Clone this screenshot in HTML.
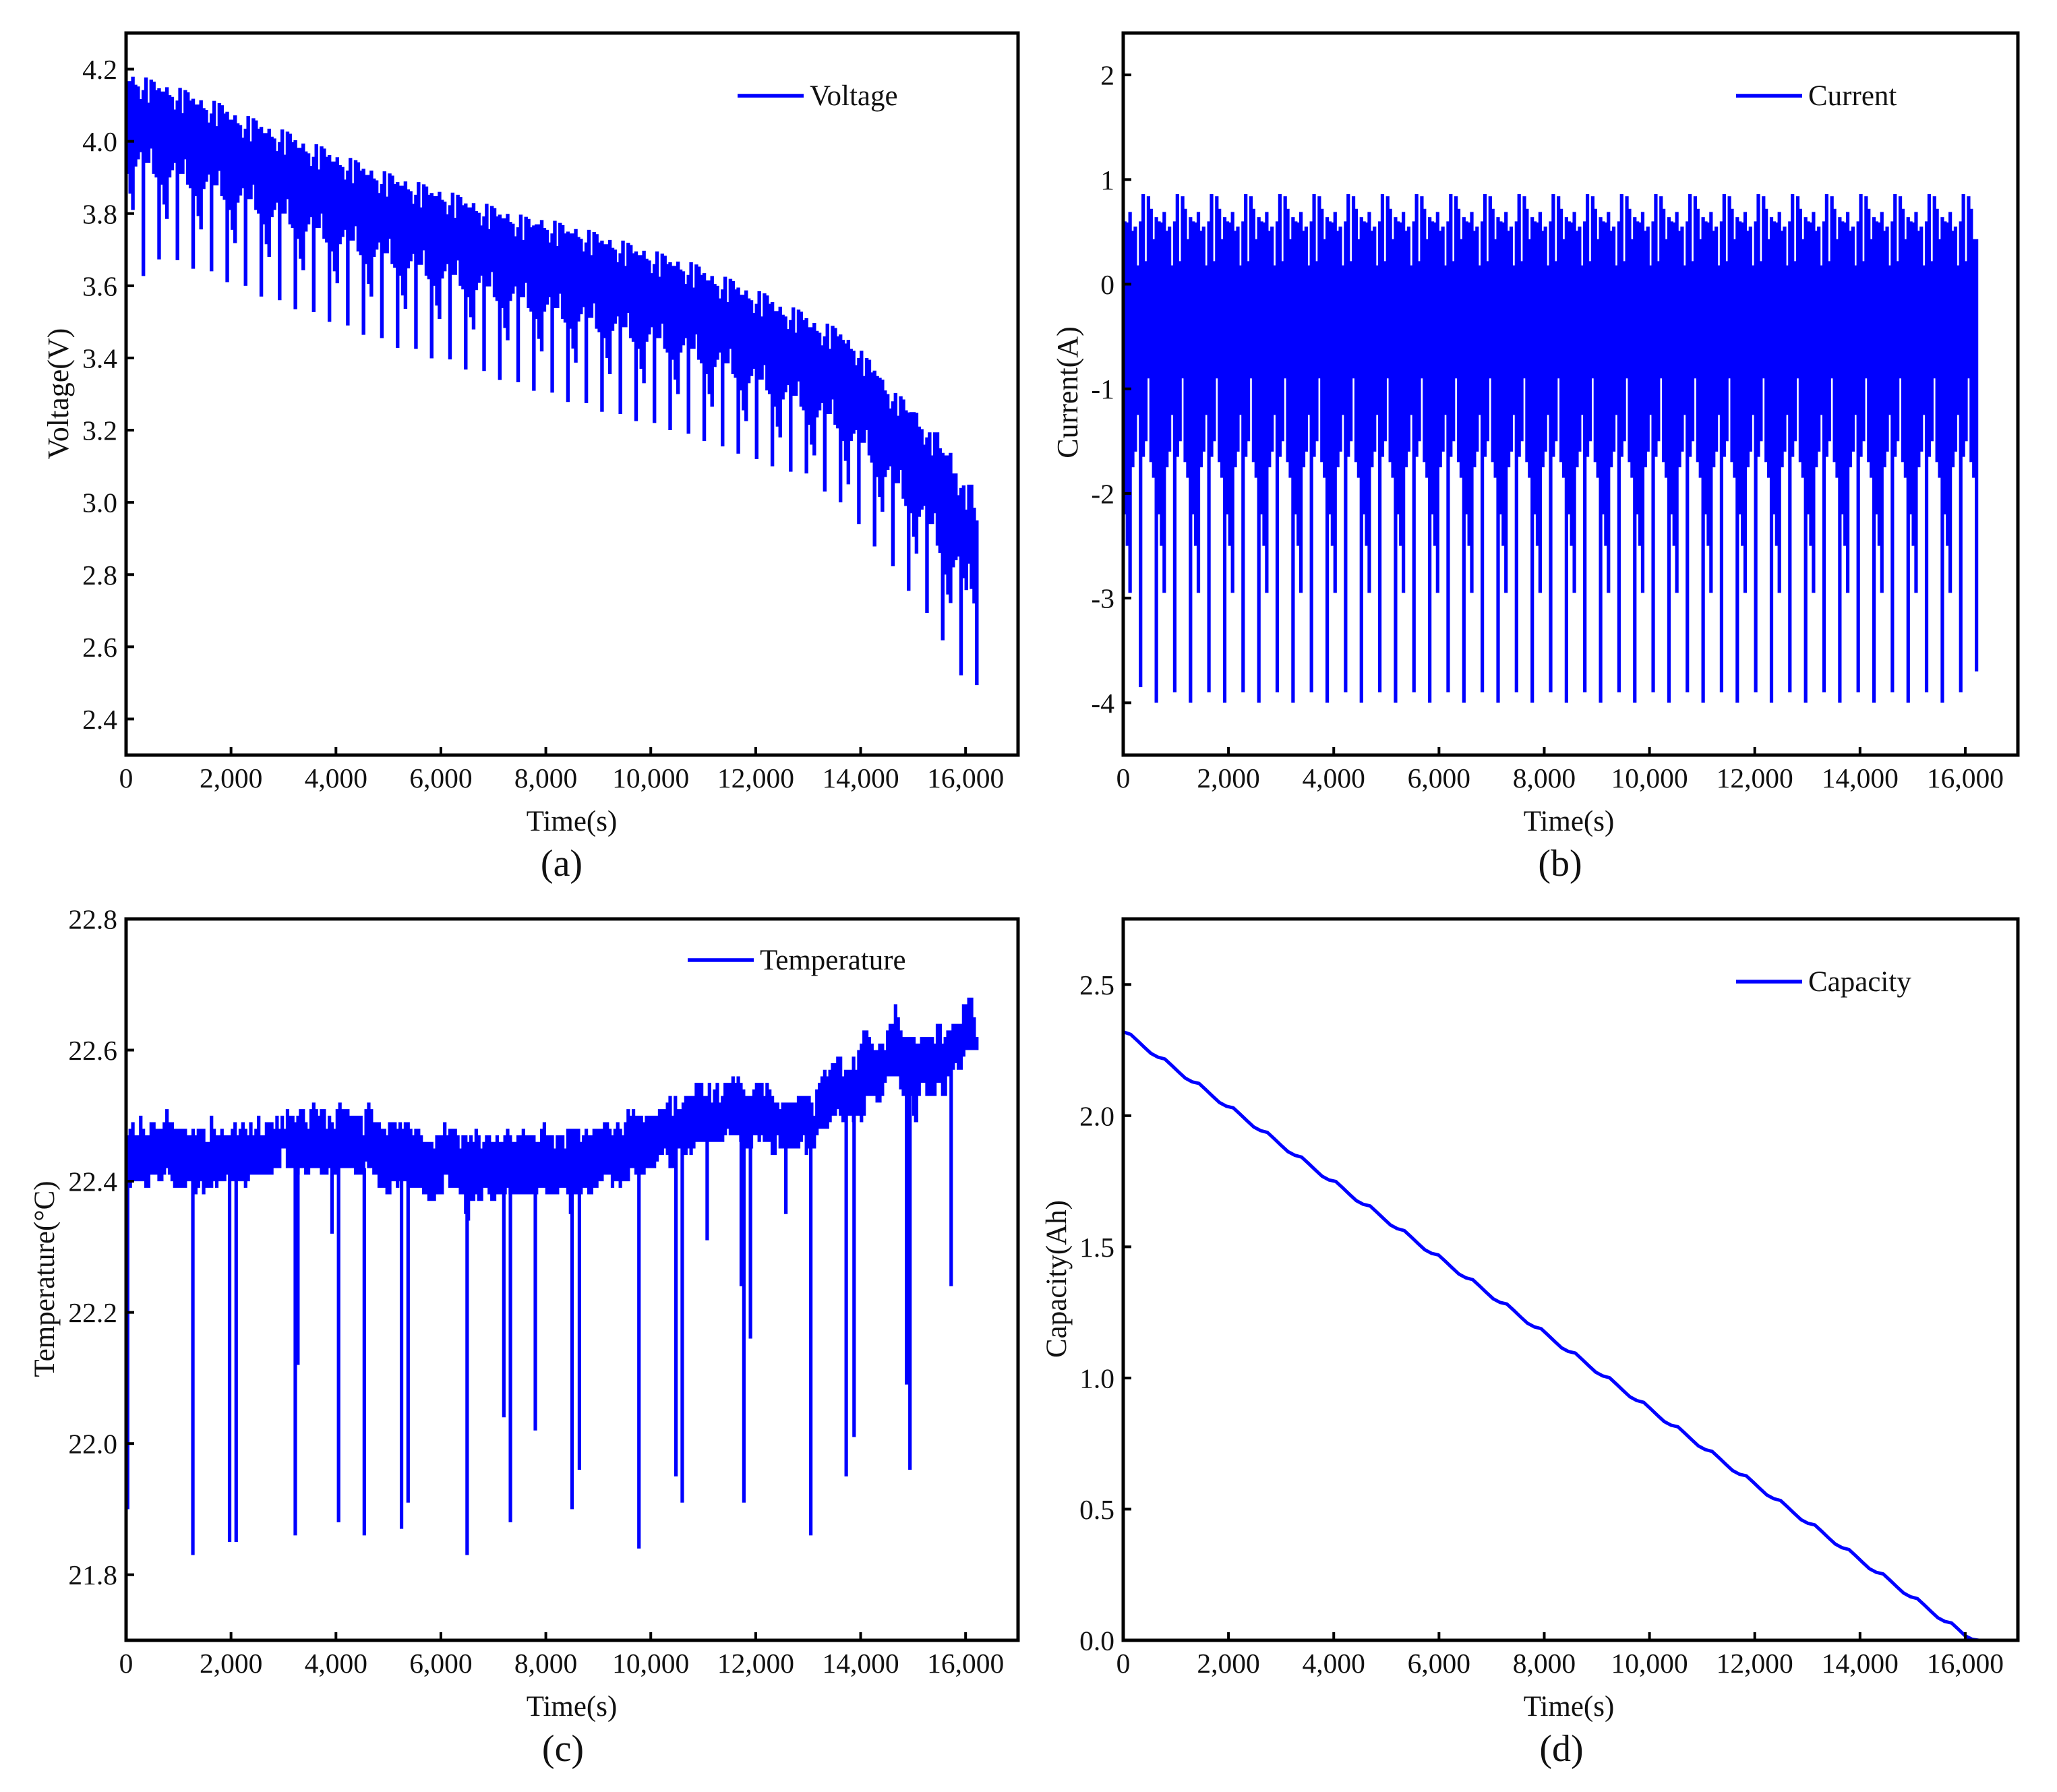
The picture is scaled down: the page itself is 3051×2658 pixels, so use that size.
<!DOCTYPE html>
<html lang="en">
<head>
<meta charset="utf-8">
<title>Battery discharge profiles</title>
<style>
html,body{margin:0;padding:0;background:#fff;}
body{width:3051px;height:2658px;overflow:hidden;}
svg{display:block;}
text{font-family:"Liberation Serif","DejaVu Serif",serif;fill:#111;}
</style>
</head>
<body>
<svg id="figure" xmlns="http://www.w3.org/2000/svg" width="3051" height="2658" viewBox="0 0 3051 2658"></svg>
<script>
const timeTicks = [0,2000,4000,6000,8000,10000,12000,14000,16000];
const timeTickLabels = ["0","2,000","4,000","6,000","8,000","10,000","12,000","14,000","16,000"];
const voltageTicks = [2.4,2.6,2.8,3.0,3.2,3.4,3.6,3.8,4.0,4.2];
const voltageTickLabels = ["2.4","2.6","2.8","3.0","3.2","3.4","3.6","3.8","4.0","4.2"];
const currentTicks = [-4,-3,-2,-1,0,1,2];
const currentTickLabels = ["-4","-3","-2","-1","0","1","2"];
const temperatureTicks = [21.8,22.0,22.2,22.4,22.6,22.8];
const temperatureTickLabels = ["21.8","22.0","22.2","22.4","22.6","22.8"];
const capacityTicks = [0,0.5,1,1.5,2,2.5];
const capacityTickLabels = ["0.0","0.5","1.0","1.5","2.0","2.5"];

/* one high/low pair per sample, starting at 30 s */
const sampleStartSeconds = 30;
const sampleStepSeconds = 49.95;

const voltageHigh = [
4.167,4.167,4.179,4.157,4.152,4.117,4.142,4.177,4.107,4.171,4.165,4.142,4.147,
4.138,4.138,4.15,4.128,4.123,4.088,4.113,4.148,4.078,4.142,4.136,4.113,4.118,
4.102,4.102,4.114,4.092,4.087,4.052,4.077,4.112,4.042,4.106,4.10,4.077,4.082,
4.06,4.06,4.072,4.05,4.045,4.01,4.035,4.07,4.0,4.064,4.058,4.035,4.04,
4.023,4.023,4.035,4.013,4.008,3.973,3.998,4.033,3.963,4.027,4.021,3.998,4.003,
3.982,3.982,3.994,3.972,3.967,3.932,3.957,3.992,3.922,3.986,3.98,3.957,3.962,
3.944,3.944,3.956,3.934,3.929,3.894,3.919,3.954,3.884,3.948,3.942,3.919,3.924,
3.907,3.907,3.919,3.897,3.892,3.857,3.882,3.917,3.847,3.911,3.905,3.882,3.887,
3.877,3.877,3.889,3.867,3.862,3.827,3.852,3.887,3.817,3.881,3.875,3.852,3.857,
3.848,3.848,3.86,3.838,3.833,3.798,3.823,3.858,3.788,3.852,3.846,3.823,3.828,
3.817,3.817,3.829,3.807,3.802,3.767,3.792,3.827,3.757,3.821,3.815,3.792,3.797,
3.787,3.787,3.799,3.777,3.772,3.737,3.762,3.797,3.727,3.791,3.785,3.762,3.767,
3.77,3.77,3.782,3.76,3.755,3.72,3.745,3.78,3.71,3.774,3.768,3.745,3.75,
3.745,3.745,3.757,3.735,3.73,3.695,3.72,3.755,3.685,3.749,3.743,3.72,3.725,
3.715,3.715,3.727,3.705,3.70,3.665,3.69,3.725,3.655,3.719,3.713,3.69,3.695,
3.685,3.685,3.697,3.675,3.67,3.635,3.66,3.695,3.625,3.689,3.683,3.66,3.665,
3.655,3.655,3.667,3.645,3.64,3.605,3.63,3.665,3.595,3.659,3.653,3.63,3.635,
3.615,3.615,3.627,3.605,3.60,3.565,3.59,3.625,3.555,3.619,3.613,3.59,3.595,
3.575,3.575,3.587,3.565,3.56,3.525,3.55,3.585,3.515,3.579,3.573,3.55,3.555,
3.53,3.53,3.542,3.52,3.515,3.48,3.505,3.54,3.47,3.534,3.528,3.505,3.51,
3.485,3.485,3.497,3.475,3.47,3.435,3.46,3.495,3.425,3.489,3.483,3.46,3.465,
3.45,3.44,3.45,3.425,3.42,3.38,3.40,3.42,3.35,3.40,3.395,3.36,3.365,
3.35,3.345,3.34,3.31,3.30,3.26,3.28,3.303,3.24,3.294,3.285,3.255,3.249,
3.25,3.25,3.248,3.21,3.203,3.16,3.18,3.194,3.13,3.194,3.194,3.15,3.137,
3.13,3.13,3.137,3.08,3.08,3.02,3.04,3.047,2.98,3.049,3.049,2.985,2.95
];
const voltageLow = [
3.91,3.855,3.81,3.93,3.95,3.97,3.627,3.94,3.94,3.98,3.91,3.90,3.673,
3.88,3.825,3.785,3.90,3.92,3.94,3.671,3.91,3.91,3.95,3.88,3.87,3.647,
3.848,3.793,3.756,3.868,3.888,3.908,3.64,3.878,3.878,3.918,3.848,3.838,3.61,
3.81,3.755,3.718,3.83,3.85,3.87,3.60,3.84,3.84,3.88,3.81,3.80,3.57,
3.77,3.715,3.68,3.79,3.81,3.83,3.56,3.80,3.80,3.84,3.77,3.76,3.535,
3.73,3.675,3.643,3.75,3.77,3.79,3.527,3.76,3.76,3.80,3.73,3.72,3.50,
3.695,3.64,3.607,3.715,3.735,3.755,3.49,3.725,3.725,3.765,3.695,3.685,3.464,
3.66,3.605,3.57,3.68,3.70,3.72,3.455,3.69,3.69,3.73,3.66,3.65,3.428,
3.628,3.573,3.536,3.648,3.668,3.688,3.425,3.658,3.658,3.698,3.628,3.618,3.399,
3.60,3.545,3.508,3.62,3.64,3.66,3.396,3.63,3.63,3.67,3.60,3.59,3.368,
3.568,3.513,3.479,3.588,3.608,3.628,3.364,3.598,3.598,3.638,3.568,3.558,3.339,
3.538,3.483,3.449,3.558,3.578,3.598,3.333,3.568,3.568,3.608,3.538,3.528,3.309,
3.508,3.453,3.418,3.528,3.548,3.568,3.304,3.538,3.538,3.578,3.508,3.498,3.278,
3.481,3.426,3.387,3.501,3.521,3.541,3.275,3.511,3.511,3.551,3.481,3.471,3.251,
3.455,3.40,3.355,3.475,3.495,3.515,3.245,3.485,3.485,3.525,3.455,3.445,3.225,
3.425,3.37,3.33,3.445,3.465,3.485,3.22,3.455,3.455,3.495,3.425,3.415,3.20,
3.395,3.34,3.30,3.415,3.435,3.455,3.19,3.425,3.425,3.465,3.395,3.385,3.17,
3.355,3.30,3.265,3.375,3.395,3.415,3.155,3.385,3.385,3.425,3.355,3.345,3.135,
3.31,3.255,3.225,3.33,3.35,3.37,3.12,3.34,3.34,3.38,3.31,3.30,3.10,
3.265,3.21,3.18,3.285,3.305,3.325,3.085,3.295,3.295,3.335,3.265,3.255,3.08,
3.215,3.16,3.13,3.235,3.255,3.275,3.03,3.245,3.245,3.285,3.215,3.205,3.00,
3.17,3.115,3.05,3.17,3.19,3.20,2.94,3.165,3.165,3.20,3.13,3.11,2.878,
3.07,3.015,2.974,3.07,3.09,3.10,2.823,3.053,3.053,3.09,3.01,2.99,2.755,
2.97,2.905,2.858,2.96,2.98,2.99,2.694,2.94,2.94,2.97,2.88,2.86,2.618,
2.80,2.745,2.721,2.82,2.84,2.85,2.521,2.79,2.757,2.83,2.76,2.72,2.494
];

const currentHigh = [
.60,.59,.69,.51,.55,.18,.60,.86,.22,.84,.72,.43,.64,
.60,.59,.69,.51,.55,.18,.60,.86,.22,.84,.72,.43,.64,
.60,.59,.69,.51,.55,.18,.60,.86,.22,.84,.72,.43,.64,
.60,.59,.69,.51,.55,.18,.60,.86,.22,.84,.72,.43,.64,
.60,.59,.69,.51,.55,.18,.60,.86,.22,.84,.72,.43,.64,
.60,.59,.69,.51,.55,.18,.60,.86,.22,.84,.72,.43,.64,
.60,.59,.69,.51,.55,.18,.60,.86,.22,.84,.72,.43,.64,
.60,.59,.69,.51,.55,.18,.60,.86,.22,.84,.72,.43,.64,
.60,.59,.69,.51,.55,.18,.60,.86,.22,.84,.72,.43,.64,
.60,.59,.69,.51,.55,.18,.60,.86,.22,.84,.72,.43,.64,
.60,.59,.69,.51,.55,.18,.60,.86,.22,.84,.72,.43,.64,
.60,.59,.69,.51,.55,.18,.60,.86,.22,.84,.72,.43,.64,
.60,.59,.69,.51,.55,.18,.60,.86,.22,.84,.72,.43,.64,
.60,.59,.69,.51,.55,.18,.60,.86,.22,.84,.72,.43,.64,
.60,.59,.69,.51,.55,.18,.60,.86,.22,.84,.72,.43,.64,
.60,.59,.69,.51,.55,.18,.60,.86,.22,.84,.72,.43,.64,
.60,.59,.69,.51,.55,.18,.60,.86,.22,.84,.72,.43,.64,
.60,.59,.69,.51,.55,.18,.60,.86,.22,.84,.72,.43,.64,
.60,.59,.69,.51,.55,.18,.60,.86,.22,.84,.72,.43,.64,
.60,.59,.69,.51,.55,.18,.60,.86,.22,.84,.72,.43,.64,
.60,.59,.69,.51,.55,.18,.60,.86,.22,.84,.72,.43,.64,
.60,.59,.69,.51,.55,.18,.60,.86,.22,.84,.72,.43,.64,
.60,.59,.69,.51,.55,.18,.60,.86,.22,.84,.72,.43,.64,
.60,.59,.69,.51,.55,.18,.60,.86,.22,.84,.72,.43,.64,
.60,.59,.69,.51,.55,.18,.60,.86,.22,.84,.72,.43,.43
];
const currentLow = [
-2.2,-2.5,-2.95,-1.75,-1.6,-1.25,-3.85,-1.65,-1.5,-.9,-1.7,-1.85,-4,
-2.2,-2.5,-2.95,-1.75,-1.6,-1.25,-3.9,-1.65,-1.5,-.9,-1.7,-1.85,-4,
-2.2,-2.5,-2.95,-1.75,-1.6,-1.25,-3.9,-1.65,-1.5,-.9,-1.7,-1.85,-4,
-2.2,-2.5,-2.95,-1.75,-1.6,-1.25,-3.9,-1.65,-1.5,-.9,-1.7,-1.85,-4,
-2.2,-2.5,-2.95,-1.75,-1.6,-1.25,-3.9,-1.65,-1.5,-.9,-1.7,-1.85,-4,
-2.2,-2.5,-2.95,-1.75,-1.6,-1.25,-3.9,-1.65,-1.5,-.9,-1.7,-1.85,-4,
-2.2,-2.5,-2.95,-1.75,-1.6,-1.25,-3.9,-1.65,-1.5,-.9,-1.7,-1.85,-4,
-2.2,-2.5,-2.95,-1.75,-1.6,-1.25,-3.9,-1.65,-1.5,-.9,-1.7,-1.85,-4,
-2.2,-2.5,-2.95,-1.75,-1.6,-1.25,-3.9,-1.65,-1.5,-.9,-1.7,-1.85,-4,
-2.2,-2.5,-2.95,-1.75,-1.6,-1.25,-3.9,-1.65,-1.5,-.9,-1.7,-1.85,-4,
-2.2,-2.5,-2.95,-1.75,-1.6,-1.25,-3.9,-1.65,-1.5,-.9,-1.7,-1.85,-4,
-2.2,-2.5,-2.95,-1.75,-1.6,-1.25,-3.9,-1.65,-1.5,-.9,-1.7,-1.85,-4,
-2.2,-2.5,-2.95,-1.75,-1.6,-1.25,-3.9,-1.65,-1.5,-.9,-1.7,-1.85,-4,
-2.2,-2.5,-2.95,-1.75,-1.6,-1.25,-3.9,-1.65,-1.5,-.9,-1.7,-1.85,-4,
-2.2,-2.5,-2.95,-1.75,-1.6,-1.25,-3.9,-1.65,-1.5,-.9,-1.7,-1.85,-4,
-2.2,-2.5,-2.95,-1.75,-1.6,-1.25,-3.9,-1.65,-1.5,-.9,-1.7,-1.85,-4,
-2.2,-2.5,-2.95,-1.75,-1.6,-1.25,-3.9,-1.65,-1.5,-.9,-1.7,-1.85,-4,
-2.2,-2.5,-2.95,-1.75,-1.6,-1.25,-3.9,-1.65,-1.5,-.9,-1.7,-1.85,-4,
-2.2,-2.5,-2.95,-1.75,-1.6,-1.25,-3.9,-1.65,-1.5,-.9,-1.7,-1.85,-4,
-2.2,-2.5,-2.95,-1.75,-1.6,-1.25,-3.9,-1.65,-1.5,-.9,-1.7,-1.85,-4,
-2.2,-2.5,-2.95,-1.75,-1.6,-1.25,-3.9,-1.65,-1.5,-.9,-1.7,-1.85,-4,
-2.2,-2.5,-2.95,-1.75,-1.6,-1.25,-3.9,-1.65,-1.5,-.9,-1.7,-1.85,-4,
-2.2,-2.5,-2.95,-1.75,-1.6,-1.25,-3.9,-1.65,-1.5,-.9,-1.7,-1.85,-4,
-2.2,-2.5,-2.95,-1.75,-1.6,-1.25,-3.9,-1.65,-1.5,-.9,-1.7,-1.85,-4,
-2.2,-2.5,-2.95,-1.75,-1.6,-1.25,-3.9,-1.65,-1.5,-.9,-1.7,-1.85,-3.7
];

const temperatureHigh = [
22.47,22.48,22.49,22.47,22.47,22.50,22.48,22.47,22.47,22.49,
22.49,22.48,22.48,22.48,22.49,22.51,22.49,22.49,22.48,22.48,
22.48,22.48,22.48,22.47,22.47,22.48,22.47,22.48,22.48,22.48,
22.46,22.46,22.50,22.48,22.47,22.47,22.48,22.47,22.47,22.47,
22.48,22.49,22.47,22.48,22.49,22.48,22.47,22.49,22.47,22.48,
22.50,22.47,22.47,22.49,22.49,22.49,22.48,22.50,22.48,22.50,
22.48,22.51,22.50,22.50,22.49,22.50,22.51,22.51,22.49,22.48,
22.51,22.52,22.51,22.50,22.51,22.51,22.48,22.50,22.49,22.48,
22.51,22.52,22.51,22.51,22.51,22.50,22.50,22.50,22.50,22.50,
22.47,22.51,22.52,22.51,22.49,22.49,22.49,22.48,22.48,22.47,
22.49,22.49,22.49,22.48,22.49,22.48,22.49,22.49,22.48,22.47,
22.48,22.48,22.47,22.46,22.46,22.46,22.46,22.45,22.47,22.47,
22.47,22.49,22.47,22.48,22.48,22.48,22.47,22.45,22.47,22.47,
22.46,22.47,22.46,22.48,22.47,22.45,22.46,22.47,22.47,22.46,
22.46,22.47,22.46,22.46,22.47,22.48,22.47,22.46,22.46,22.47,
22.47,22.48,22.47,22.47,22.47,22.47,22.46,22.46,22.48,22.49,
22.47,22.47,22.47,22.45,22.47,22.47,22.47,22.45,22.48,22.48,
22.48,22.48,22.48,22.46,22.47,22.48,22.47,22.47,22.48,22.48,
22.48,22.48,22.49,22.49,22.48,22.47,22.48,22.49,22.48,22.47,
22.49,22.51,22.50,22.51,22.50,22.50,22.50,22.49,22.50,22.50,
22.50,22.50,22.50,22.51,22.51,22.51,22.52,22.53,22.50,22.53,
22.51,22.51,22.52,22.53,22.53,22.53,22.53,22.55,22.55,22.55,
22.53,22.53,22.55,22.52,22.54,22.55,22.52,22.53,22.55,22.55,
22.55,22.56,22.55,22.56,22.55,22.54,22.53,22.53,22.53,22.54,
22.55,22.55,22.55,22.53,22.55,22.54,22.53,22.52,22.52,22.51,
22.52,22.52,22.52,22.52,22.52,22.52,22.53,22.53,22.53,22.53,
22.53,22.52,22.50,22.54,22.55,22.56,22.57,22.56,22.57,22.58,
22.58,22.59,22.59,22.56,22.57,22.57,22.57,22.59,22.57,
22.60,22.61,22.63,22.63,22.62,22.61,22.60,22.60,22.61,22.61,22.60,
22.63,22.64,22.64,22.67,22.65,22.63,22.62,22.62,22.62,22.62,
22.62,22.61,22.61,22.62,22.62,22.62,22.62,22.62,22.61,22.64,
22.64,22.61,22.62,22.63,22.63,22.64,22.64,22.64,22.64,22.67,
22.67,22.68,22.68,22.65,22.62
];
const temperatureLow = [
22.38,22.39,22.40,22.40,22.40,22.40,22.40,22.39,22.39,22.41,
22.41,22.41,22.40,22.40,22.41,22.42,22.41,22.40,22.39,22.39,
22.39,22.39,22.39,22.40,22.40,22.39,22.38,22.39,22.40,22.38,
22.39,22.39,22.39,22.40,22.39,22.40,22.40,22.40,22.41,22.40,
22.40,22.40,22.40,22.40,22.40,22.39,22.40,22.41,22.41,22.41,
22.41,22.41,22.41,22.41,22.41,22.41,22.42,22.42,22.42,22.45,
22.45,22.42,22.42,22.42,22.41,22.41,22.42,22.42,22.41,22.41,
22.42,22.42,22.42,22.42,22.41,22.41,22.41,22.42,22.41,22.41,
22.41,22.42,22.42,22.42,22.42,22.42,22.42,22.41,22.41,22.41,
22.41,22.43,22.42,22.42,22.41,22.41,22.39,22.39,22.39,22.38,
22.38,22.40,22.40,22.39,22.40,22.40,22.40,22.39,22.39,22.39,
22.39,22.39,22.39,22.38,22.38,22.37,22.37,22.37,22.38,22.38,
22.38,22.41,22.41,22.39,22.39,22.39,22.39,22.38,22.38,22.35,
22.34,22.37,22.37,22.38,22.37,22.37,22.39,22.39,22.38,22.37,
22.37,22.38,22.38,22.38,22.38,22.39,22.38,22.38,22.38,22.38,
22.38,22.38,22.38,22.38,22.38,22.38,22.38,22.39,22.39,22.39,
22.38,22.38,22.38,22.38,22.38,22.39,22.39,22.39,22.38,22.35,
22.38,22.38,22.38,22.38,22.39,22.39,22.38,22.38,22.39,22.39,
22.40,22.40,22.41,22.41,22.41,22.39,22.40,22.40,22.39,22.40,
22.40,22.40,22.42,22.42,22.41,22.41,22.41,22.41,22.42,22.42,
22.42,22.42,22.43,22.44,22.44,22.45,22.44,22.42,22.42,22.44,
22.45,22.45,22.44,22.44,22.45,22.44,22.45,22.46,22.46,22.46,
22.46,22.46,22.46,22.46,22.46,22.46,22.46,22.46,22.47,22.48,
22.47,22.47,22.47,22.47,22.46,22.45,22.45,22.45,22.45,22.47,
22.47,22.46,22.47,22.46,22.46,22.46,22.44,22.44,22.47,22.45,
22.45,22.45,22.45,22.45,22.45,22.45,22.45,22.46,22.47,22.44,
22.45,22.45,22.45,22.47,22.48,22.48,22.48,22.48,22.49,22.50,
22.50,22.51,22.50,22.49,22.49,22.50,22.50,22.49,22.50,
22.50,22.49,22.50,22.53,22.53,22.53,22.53,22.52,22.52,22.53,22.55,
22.56,22.56,22.56,22.56,22.56,22.54,22.53,22.53,22.53,22.53,
22.50,22.49,22.53,22.55,22.55,22.53,22.53,22.53,22.53,22.55,
22.55,22.53,22.53,22.56,22.56,22.57,22.58,22.57,22.57,22.59,
22.60,22.60,22.60,22.60,22.60
];
const temperatureDipTimes = [30,1273,1973,2098,3225,3275,3925,4050,4540,5250,5375,6500,7200,7325,7800,8500,8640,9775,10480,10600,11075,11725,11775,11900,12575,13050,13725,13875,14875,14940,15050,15725];
const temperatureDipValues = [21.90,21.83,21.85,21.85,21.86,22.12,22.32,21.88,21.86,21.87,21.91,21.83,22.04,21.88,22.02,21.90,21.96,21.84,21.95,21.91,22.31,22.24,21.91,22.16,22.35,21.86,21.95,22.01,22.09,21.96,22.49,22.24];

/* capacity sampled every 130 s, starting at 10 s */
const capacityStartSeconds = 10;
const capacityStepSeconds = 130;
const capacityValues = [
2.319,
2.310,2.286,2.261,2.237,2.223,
2.216,2.192,2.167,2.143,2.129,
2.123,2.099,2.074,2.050,2.036,
2.030,2.006,1.981,1.957,1.943,
1.936,1.912,1.887,1.863,1.849,
1.842,1.818,1.793,1.769,1.755,
1.749,1.725,1.700,1.676,1.662,
1.656,1.632,1.607,1.583,1.569,
1.562,1.538,1.513,1.489,1.475,
1.469,1.445,1.420,1.396,1.382,
1.375,1.351,1.326,1.302,1.288,
1.282,1.258,1.233,1.209,1.195,
1.188,1.164,1.139,1.115,1.101,
1.095,1.071,1.046,1.022,1.008,
1.001,0.977,0.952,0.928,0.914,
0.907,0.883,0.858,0.834,0.820,
0.814,0.790,0.765,0.741,0.727,
0.720,0.696,0.671,0.647,0.633,
0.627,0.603,0.578,0.554,0.540,
0.533,0.509,0.484,0.460,0.446,
0.440,0.416,0.391,0.367,0.353,
0.346,0.322,0.297,0.273,0.259,
0.253,0.229,0.204,0.180,0.166,
0.159,0.135,0.110,0.086,0.072,
0.066,0.042,0.017,0.004,0.0
];

const SVG_NS = 'http://www.w3.org/2000/svg';
const figure = document.getElementById('figure');
const BLUE = '#0000ff';
const TIME_MAX = 17000;

function make(tag, parent) {
  const el = document.createElementNS(SVG_NS, tag);
  parent.appendChild(el);
  return el;
}
function makeText(parent, content, x, y, size, anchor, rotate) {
  const t = make('text', parent);
  t.textContent = content;
  t.setAttribute('x', x);
  t.setAttribute('y', y);
  t.setAttribute('font-size', size);
  t.setAttribute('text-anchor', anchor);
  if (rotate) t.setAttribute('transform', 'rotate(-90 ' + x + ' ' + y + ')');
  return t;
}
function linear(d0, d1, r0, r1) {
  return function (v) { return r0 + (v - d0) * (r1 - r0) / (d1 - d0); };
}
function bandPath(high, low, xs, ys) {
  let d = '';
  const n = Math.min(high.length, low.length);
  for (let i = 0; i < n; i++) {
    const x = xs(sampleStartSeconds + i * sampleStepSeconds).toFixed(2);
    d += 'M' + x + ' ' + ys(high[i]).toFixed(2) + 'V' + ys(low[i]).toFixed(2);
  }
  return d;
}

function drawPanel(p) {
  const g = make('g', figure);
  
  
  const xs = linear(0, TIME_MAX, p.left, p.right);
  const ys = linear(p.yMin, p.yMax, p.bottom, p.top);

  const series = make('path', g);
  
  
  series.setAttribute('d', p.path(xs, ys));
  series.setAttribute('fill', 'none');
  series.setAttribute('stroke', BLUE);
  series.setAttribute('stroke-width', p.stroke);
  series.setAttribute('stroke-linejoin', 'round');

  const frame = make('rect', g);
  
  
  frame.setAttribute('x', p.left);
  frame.setAttribute('y', p.top);
  frame.setAttribute('width', p.right - p.left);
  frame.setAttribute('height', p.bottom - p.top);
  frame.setAttribute('fill', 'none');
  frame.setAttribute('stroke', '#000');
  frame.setAttribute('stroke-width', 5);

  timeTicks.forEach(function (t, i) {
    const x = xs(t);
    const tick = make('line', g);
    
    
    tick.setAttribute('x1', x);
    tick.setAttribute('x2', x);
    tick.setAttribute('y1', p.bottom);
    tick.setAttribute('y2', p.bottom - 12);
    tick.setAttribute('stroke', '#000');
    tick.setAttribute('stroke-width', 4);
    const label = makeText(g, timeTickLabels[i], x, p.bottom + 48, 41.5, 'middle');
    
    
  });

  p.ticks.forEach(function (v, i) {
    const y = ys(v);
    const tick = make('line', g);
    
    
    tick.setAttribute('x1', p.left);
    tick.setAttribute('x2', p.left + 12);
    tick.setAttribute('y1', y);
    tick.setAttribute('y2', y);
    tick.setAttribute('stroke', '#000');
    tick.setAttribute('stroke-width', 4);
    const label = makeText(g, p.tickLabels[i], p.left - 13, y + 14.5, 41.5, 'end');
    
    
  });

  const xTitle = makeText(g, 'Time(s)', p.left + 661, p.bottom + 112, 43, 'middle');
  
  

  const yTitle = makeText(g, p.yTitle, p.yTitleX, p.yTitleY, p.yTitleSize, 'middle', true);
  
  

  const caption = makeText(g, p.caption, p.captionX, p.bottom + 179, 56, 'middle');
  
  

  const legendLine = make('line', g);
  
  
  legendLine.setAttribute('x1', p.legendX);
  legendLine.setAttribute('x2', p.legendX + 98);
  legendLine.setAttribute('y1', p.legendY);
  legendLine.setAttribute('y2', p.legendY);
  legendLine.setAttribute('stroke', BLUE);
  legendLine.setAttribute('stroke-width', 5.5);

  const legendText = makeText(g, p.legend, p.legendX + 107, p.legendY + 14, 43, 'start');
  
  
}

drawPanel({
  id: 'voltage', left: 187, right: 1510, top: 49, bottom: 1120, yMin: 2.3, yMax: 4.3,
  ticks: voltageTicks, tickLabels: voltageTickLabels, stroke: 5.4,
  yTitle: 'Voltage(V)', yTitleSize: 44, yTitleX: 101, yTitleY: 584,
  caption: '(a)', captionX: 833, legend: 'Voltage', legendX: 1094, legendY: 142,
  path: function (xs, ys) { return bandPath(voltageHigh, voltageLow, xs, ys); }
});
drawPanel({
  id: 'current', left: 1666, right: 2993, top: 49, bottom: 1120, yMin: -4.5, yMax: 2.4,
  ticks: currentTicks, tickLabels: currentTickLabels, stroke: 5.2,
  yTitle: 'Current(A)', yTitleSize: 44, yTitleX: 1598, yTitleY: 582,
  caption: '(b)', captionX: 2314, legend: 'Current', legendX: 2575, legendY: 142,
  path: function (xs, ys) { return bandPath(currentHigh, currentLow, xs, ys); }
});
drawPanel({
  id: 'temperature', left: 187, right: 1510, top: 1363, bottom: 2433, yMin: 21.7, yMax: 22.8,
  ticks: temperatureTicks, tickLabels: temperatureTickLabels, stroke: 5.2,
  yTitle: 'Temperature(°C)', yTitleSize: 43, yTitleX: 80, yTitleY: 1897,
  caption: '(c)', captionX: 835, legend: 'Temperature', legendX: 1020, legendY: 1424,
  path: function (xs, ys) {
    let d = bandPath(temperatureHigh, temperatureLow, xs, ys);
    temperatureDipTimes.forEach(function (t, i) {
      const idx = Math.max(0, Math.min(temperatureLow.length - 1, Math.round((t - sampleStartSeconds) / sampleStepSeconds)));
      d += 'M' + xs(t).toFixed(2) + ' ' + ys(temperatureLow[idx] + 0.01).toFixed(2) + 'V' + ys(temperatureDipValues[i]).toFixed(2);
    });
    return d;
  }
});
drawPanel({
  id: 'capacity', left: 1666, right: 2993, top: 1363, bottom: 2433, yMin: 0, yMax: 2.75,
  ticks: capacityTicks, tickLabels: capacityTickLabels, stroke: 5,
  yTitle: 'Capacity(Ah)', yTitleSize: 43, yTitleX: 1581, yTitleY: 1897,
  caption: '(d)', captionX: 2316, legend: 'Capacity', legendX: 2575, legendY: 1456,
  path: function (xs, ys) {
    let d = '';
    capacityValues.forEach(function (v, i) {
      d += (i ? 'L' : 'M') + xs(capacityStartSeconds + i * capacityStepSeconds).toFixed(2) + ' ' + ys(v).toFixed(2);
    });
    return d;
  }
});
</script>
</body>
</html>
